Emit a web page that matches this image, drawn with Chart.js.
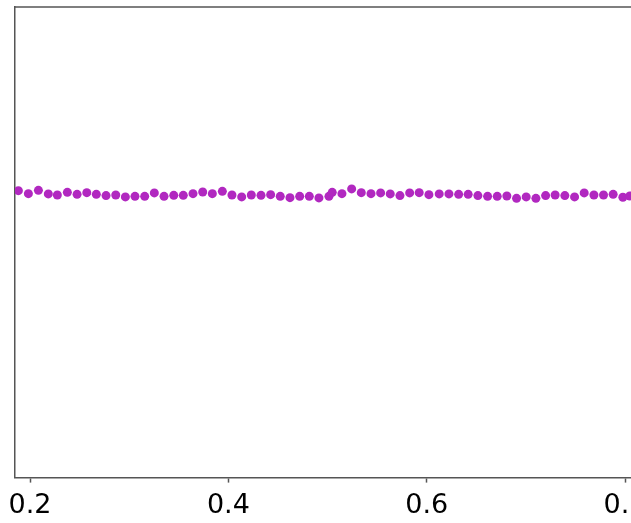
<!DOCTYPE html>
<html>
<head>
<meta charset="utf-8">
<script src="https://cdn.jsdelivr.net/npm/chart.js@4.4.0/dist/chart.umd.min.js"></script>
<style>
  html, body { margin: 0; padding: 0; background: #fff; }
  #wrap { width: 631px; height: 523px; overflow: hidden; }
</style>
</head>
<body>
<div id="wrap"><canvas id="grafico" width="700" height="523"></canvas></div>
<script>
// valores
var xValores = [
    0.1882, 0.1983, 0.2084, 0.2184, 0.2275, 0.2376, 0.2474, 0.2572, 0.2668, 0.2766,
    0.2864, 0.2961, 0.3058, 0.3156, 0.3253, 0.3351, 0.3449, 0.3545, 0.3643, 0.3741,
    0.3838, 0.3939, 0.4036, 0.4134, 0.4231, 0.4329, 0.4426, 0.4523, 0.4621, 0.4719,
    0.4816, 0.4913, 0.5014, 0.5047, 0.5145, 0.5243, 0.5340, 0.5438, 0.5535, 0.5632,
    0.5730, 0.5828, 0.5924, 0.6022, 0.6126, 0.6224, 0.6322, 0.6418, 0.6516, 0.6614,
    0.6711, 0.6808, 0.6906, 0.7003, 0.7101, 0.7199, 0.7295, 0.7393, 0.7491, 0.7588,
    0.7686, 0.7783, 0.7880, 0.7978, 0.8048
];
var yValores = [
    0.6098, 0.6034, 0.6104, 0.6028, 0.6006, 0.6061, 0.6019, 0.6055, 0.6019, 0.5992,
    0.6006, 0.5964, 0.5977, 0.5977, 0.6049, 0.5977, 0.5998, 0.5998, 0.6034, 0.6070,
    0.6034, 0.6083, 0.6006, 0.5964, 0.6006, 0.5998, 0.6013, 0.5977, 0.5949, 0.5977,
    0.5977, 0.5943, 0.5977, 0.6061, 0.6034, 0.6134, 0.6055, 0.6034, 0.6049, 0.6028,
    0.5992, 0.6049, 0.6055, 0.6013, 0.6028, 0.6028, 0.6019, 0.6019, 0.5992, 0.5977,
    0.5977, 0.5985, 0.5934, 0.5964, 0.5934, 0.5992, 0.6006, 0.5992, 0.5964, 0.6049,
    0.6006, 0.6006, 0.6019, 0.5958, 0.5985
];
var xTicks = [0.2, 0.4, 0.6, 0.8];

var puntos = xValores.map(function (x, i) { return { x: x, y: yValores[i] }; });

// linea superior del marco
var marcoSuperior = {
    id: 'marcoSuperior',
    afterDraw: function (chart) {
        var ctx = chart.ctx, a = chart.chartArea;
        ctx.save();
        ctx.strokeStyle = '#555';
        ctx.lineWidth = 1.5;
        ctx.beginPath();
        ctx.moveTo(a.left - 0.75, a.top);
        ctx.lineTo(a.right + 10, a.top);
        ctx.stroke();
        ctx.restore();
    }
};

var ctx = document.getElementById('grafico');
var myChart = new Chart(ctx, {
    type: 'scatter',
    data: {
        datasets: [{
            data: puntos,
            backgroundColor: '#b128c0',
            borderWidth: 0,
            pointRadius: 4.5
        }]
    },
    options: {
        responsive: false,
        animation: false,
        devicePixelRatio: 1,
        layout: { padding: { left: 15, top: 7, right: 69, bottom: -7 } },
        plugins: { legend: { display: false }, tooltip: { enabled: false } },
        scales: {
            x: {
                type: 'linear',
                min: 0.1848,
                max: 0.806,
                afterBuildTicks: function (scale) {
                    scale.ticks = xTicks.map(function (v) { return { value: v }; });
                },
                grid: {
                    display: true,
                    drawOnChartArea: false,
                    drawTicks: true,
                    tickLength: 5,
                    tickColor: '#555',
                    tickWidth: 1.5
                },
                border: { display: true, color: '#555', width: 1.5 },
                ticks: {
                    padding: 7.5,
                    color: '#000',
                    maxRotation: 0,
                    autoSkip: false,
                    font: { family: 'DejaVu Sans', size: 27 },
                    callback: function (v) { return Number(v).toFixed(1); }
                }
            },
            y: {
                min: 0,
                max: 1,
                grid: { display: false, drawTicks: false },
                border: { display: true, color: '#555', width: 1.5 },
                ticks: { display: false }
            }
        }
    },
    plugins: [marcoSuperior]
});
</script>
</body>
</html>
